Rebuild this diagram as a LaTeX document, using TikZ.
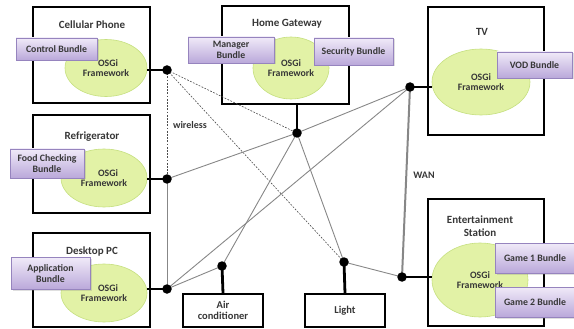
\documentclass[tikz,border=0pt]{standalone}
\usepackage{fontspec}
\setmainfont{Carlito}
\usetikzlibrary{shapes.geometric,shadows}
\definecolor{txt}{RGB}{55,55,55}
\definecolor{ellfill}{RGB}{226,242,166}
\definecolor{elldraw}{RGB}{198,224,128}
\definecolor{bunTop}{RGB}{240,234,248}
\definecolor{bunBot}{RGB}{186,168,218}
\definecolor{bunDraw}{RGB}{150,132,190}
\definecolor{wire}{RGB}{135,135,135}
\tikzset{
  devbox/.style={draw=black, line width=1.4pt, fill=white, inner sep=0pt},
  osgi/.style={ellipse, draw=elldraw, line width=0.6pt, fill=ellfill, inner sep=0pt,
    font=\bfseries\fontsize{9.8}{10.5}\selectfont, text=txt, align=center},
  bundle/.style={draw=bunDraw, line width=0.6pt, top color=bunTop, bottom color=bunBot,
    inner sep=0pt, align=center, font=\bfseries\fontsize{9.8}{10.5}\selectfont, text=txt,
    drop shadow={opacity=0.25, shadow xshift=1.5pt, shadow yshift=-1.5pt}},
  title/.style={font=\bfseries\fontsize{11}{12.5}\selectfont, text=txt, align=center},
  dot/.style={circle, fill=black, inner sep=0pt, minimum size=9.5pt},
  thickc/.style={line width=2.8pt, black},
  link/.style={wire, line width=0.9pt},
  wlink/.style={black!70, line width=0.6pt, dash pattern=on 1.8pt off 1.4pt},
  wan/.style={wire, line width=2pt},
  lbl/.style={font=\bfseries\fontsize{10}{11}\selectfont, text=txt}
}
\begin{document}
\begin{tikzpicture}[x=1pt,y=-1pt]
\useasboundingbox (0,0) rectangle (574,329);

% device boxes
\node[devbox, minimum width=117pt, minimum height=96pt] (cpbox) at (91.5,55) {};
\node[devbox, minimum width=117pt, minimum height=98pt] (rfbox) at (91.5,164) {};
\node[devbox, minimum width=117pt, minimum height=94pt] (pcbox) at (91.5,280) {};
\node[devbox, minimum width=127pt, minimum height=98pt] (hgbox) at (285.5,55) {};
\node[devbox, minimum width=116pt, minimum height=128pt] (tvbox) at (486,71) {};
\node[devbox, minimum width=116pt, minimum height=127pt] (esbox) at (486,262.5) {};
\node[devbox, minimum width=80pt, minimum height=33pt, title, font=\bfseries\fontsize{10.5}{11.5}\selectfont] (acbox) at (223,310.5) {Air\\conditioner};
\node[devbox, minimum width=80pt, minimum height=33pt, title, font=\bfseries\fontsize{10.5}{11.5}\selectfont] (ltbox) at (345,310.5) {Light};

% titles
\node[title] (cpt) at (92,25) {Cellular Phone};
\node[title] (rft) at (92,137) {Refrigerator};
\node[title] (pct) at (92,252) {Desktop PC};
\node[title] (hgt) at (287,24) {Home Gateway};
\node[title] (tvt) at (482,32) {TV};
\node[title] (est) at (480,226) {Entertainment\\Station};

% OSGi frameworks
\node[osgi, minimum width=82pt, minimum height=57pt] (cpe) at (106,68) {\hspace{4pt}OSGi\\Framework};
\node[osgi, minimum width=86pt, minimum height=58pt] (rfe) at (104,178) {\hspace{8pt}OSGi\\Framework};
\node[osgi, minimum width=86pt, minimum height=58pt] (pce) at (104,293) {\hspace{8pt}OSGi\\Framework};
\node[osgi, minimum width=76pt, minimum height=62pt] (hge) at (291,68) {OSGi\\Framework};
\node[osgi, minimum width=98pt, minimum height=66pt] (tve) at (481,82) {OSGi\\Framework};
\node[osgi, minimum width=96pt, minimum height=74pt] (ese) at (480,280) {OSGi\\Framework};

% bundles
\node[bundle, minimum width=81pt, minimum height=22pt] (cb) at (56.5,49) {Control Bundle};
\node[bundle, minimum width=86pt, minimum height=26pt] (mb) at (231,50) {Manager\\Bundle};
\node[bundle, minimum width=79pt, minimum height=27pt] (sb) at (353.5,51.5) {Security Bundle};
\node[bundle, minimum width=75pt, minimum height=26pt] (vb) at (534.5,65) {VOD Bundle};
\node[bundle, minimum width=74pt, minimum height=29pt] (fb) at (47,163.5) {Food Checking\\Bundle};
\node[bundle, minimum width=79pt, minimum height=32pt] (ab) at (50.5,273.5) {Application\\Bundle};
\node[bundle, minimum width=79pt, minimum height=30pt] (g1) at (535,258) {Game 1 Bundle};
\node[bundle, minimum width=79pt, minimum height=30pt] (g2) at (535,302) {Game 2 Bundle};

% network junctions
\coordinate (cpd) at (167,70);
\coordinate (rfd) at (167,179);
\coordinate (pcd) at (167,289);
\coordinate (hgd) at (297,133);
\coordinate (tvd) at (410,87);
\coordinate (esd) at (402,277);
\coordinate (acd) at (222,266);
\coordinate (ltd) at (344,262);

% wireless links
\draw[wlink] (cpd) -- (rfd);
\draw[wlink] (cpd) -- (hgd);
\draw[wlink] (cpd) -- (ltd);

% wired links
\draw[link] (rfd) -- (pcd);
\draw[link] (rfd) -- (hgd);
\draw[link] (hgd) -- (tvd);
\draw[link] (hgd) -- (acd);
\draw[link] (hgd) -- (ltd);
\draw[link] (pcd) -- (acd);
\draw[link] (pcd) -- (tvd);
\draw[link] (ltd) -- (esd);
\draw[wan] (tvd) -- (esd);

% device attachments
\draw[thickc] (cpd) -- (cpd -| cpe.east);
\draw[thickc] (rfd) -- (rfd -| rfe.east);
\draw[thickc] (pcd) -- (pcd -| pce.east);
\draw[thickc] (hgd) -- (hgd |- hgbox.south);
\draw[thickc] (tvd) -- (tvd -| tve.west);
\draw[thickc] (esd) -- (esd -| ese.west);
\draw[thickc] (acd) -- (acbox.north);
\draw[thickc] (ltd) -- (ltbox.north);

\foreach \p in {cpd,rfd,pcd,hgd,tvd,esd,acd,ltd}
  \node[dot] at (\p) {};

% labels
\node[lbl] (wl) at (190,125) {wireless};
\node[lbl] (wanl) at (424,175) {WAN};
\end{tikzpicture}
\end{document}
